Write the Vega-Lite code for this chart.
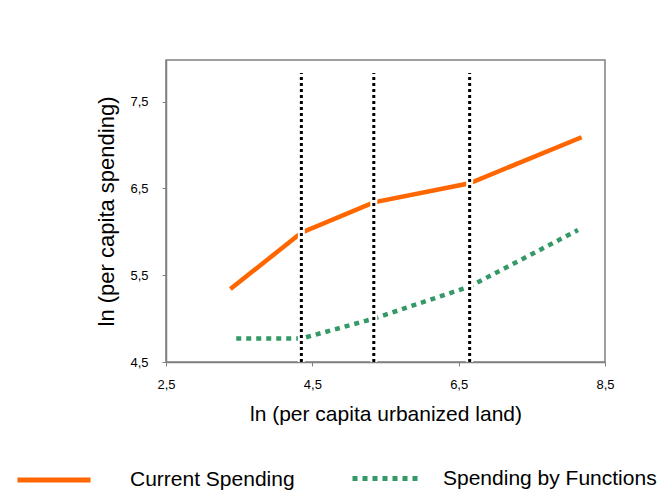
{
  "$schema": "https://vega.github.io/schema/vega-lite/v6.json",
  "width": 439,
  "height": 302,
  "autosize": {"type": "none"},
  "padding": {"left": 166, "top": 60, "right": 54, "bottom": 141},
  "background": "white",
  "config": {
    "font": "Liberation Sans",
    "view": {"stroke": "#808080", "strokeWidth": 1.5},
    "axis": {
      "grid": false,
      "domainColor": "#808080",
      "domainWidth": 1.5,
      "tickColor": "#808080",
      "tickSize": 4,
      "labelColor": "black",
      "labelFontSize": 13,
      "labelFlush": false,
      "titleColor": "black",
      "titleFontWeight": "normal",
      "titleFont": "Liberation Sans",
      "labelFont": "Liberation Sans"
    },
    "legend": {
      "title": null,
      "orient": "none",
      "direction": "horizontal",
      "symbolType": "stroke",
      "symbolStrokeWidth": 5,
      "labelFontSize": 21,
      "labelLimit": 400,
      "labelColor": "black",
      "labelFont": "Liberation Sans"
    }
  },
  "data": {
    "values": [
      {"series": "Current Spending", "x": 3.38, "y": 5.34},
      {"series": "Current Spending", "x": 4.35, "y": 5.99},
      {"series": "Current Spending", "x": 5.34, "y": 6.34},
      {"series": "Current Spending", "x": 6.65, "y": 6.56},
      {"series": "Current Spending", "x": 8.18, "y": 7.09},
      {"series": "Spending by Functions", "x": 3.46, "y": 4.77},
      {"series": "Spending by Functions", "x": 4.35, "y": 4.77},
      {"series": "Spending by Functions", "x": 5.34, "y": 5.0},
      {"series": "Spending by Functions", "x": 6.65, "y": 5.37},
      {"series": "Spending by Functions", "x": 8.13, "y": 6.02}
    ]
  },
  "encoding": {
    "x": {
      "field": "x", "type": "quantitative",
      "scale": {"domain": [2.5, 8.5], "nice": false, "zero": false},
      "axis": {
        "values": [2.5, 4.5, 6.5, 8.5],
        "labelExpr": "replace(format(datum.value, '.1f'), '.', ',')",
        "labelPadding": 12,
        "title": "ln (per capita urbanized land)",
        "titleFontSize": 21,
        "titlePadding": 12
      }
    },
    "y": {
      "field": "y", "type": "quantitative",
      "scale": {"domain": [4.5, 7.98], "nice": false, "zero": false},
      "axis": {
        "values": [4.5, 5.5, 6.5, 7.5],
        "labelExpr": "replace(format(datum.value, '.1f'), '.', ',')",
        "labelPadding": 14,
        "title": "ln (per capita spending)",
        "titleFontSize": 22,
        "titlePadding": 11
      }
    }
  },
  "layer": [
    {
      "transform": [{"filter": "datum.series === 'Current Spending'"}],
      "mark": {"type": "line", "strokeWidth": 4.5, "strokeCap": "butt"},
      "encoding": {
        "color": {
          "field": "series", "type": "nominal",
          "scale": {"domain": ["Current Spending"], "range": ["#FF6600"]},
          "legend": {
            "legendX": -151,
            "legendY": 381,
            "symbolSize": 5329,
            "labelOffset": 37
          }
        }
      }
    },
    {
      "transform": [{"filter": "datum.series === 'Spending by Functions'"}],
      "mark": {"type": "line", "strokeWidth": 4.5, "strokeCap": "butt"},
      "encoding": {
        "color": {
          "field": "series", "type": "nominal",
          "scale": {"domain": ["Spending by Functions"], "range": ["#339966"]},
          "legend": {
            "legendX": 184,
            "legendY": 381,
            "symbolSize": 4900,
            "labelOffset": 18
          }
        },
        "strokeDash": {
          "field": "series", "type": "nominal",
          "scale": {"domain": ["Spending by Functions"], "range": [[5, 5]]},
          "legend": {
            "legendX": 184,
            "legendY": 381,
            "symbolSize": 4900,
            "labelOffset": 18
          }
        }
      }
    },
    {
      "data": {"values": [{"x": 4.35, "ylo": 4.5, "yhi": 7.83}, {"x": 5.34, "ylo": 4.5, "yhi": 7.83}, {"x": 6.65, "ylo": 4.5, "yhi": 7.83}]},
      "mark": {"type": "rule", "color": "white", "strokeWidth": 7},
      "encoding": {
        "y": {"field": "ylo", "type": "quantitative"},
        "y2": {"field": "yhi"}
      }
    },
    {
      "data": {"values": [{"x": 4.35, "ylo": 4.5, "yhi": 7.83}, {"x": 5.34, "ylo": 4.5, "yhi": 7.83}, {"x": 6.65, "ylo": 4.5, "yhi": 7.83}]},
      "mark": {"type": "rule", "color": "black", "strokeWidth": 3, "strokeDash": [3, 3]},
      "encoding": {
        "y": {"field": "ylo", "type": "quantitative"},
        "y2": {"field": "yhi"}
      }
    }
  ],
  "resolve": {
    "scale": {"color": "independent", "strokeDash": "independent"},
    "legend": {"color": "independent", "strokeDash": "independent"}
  }
}
